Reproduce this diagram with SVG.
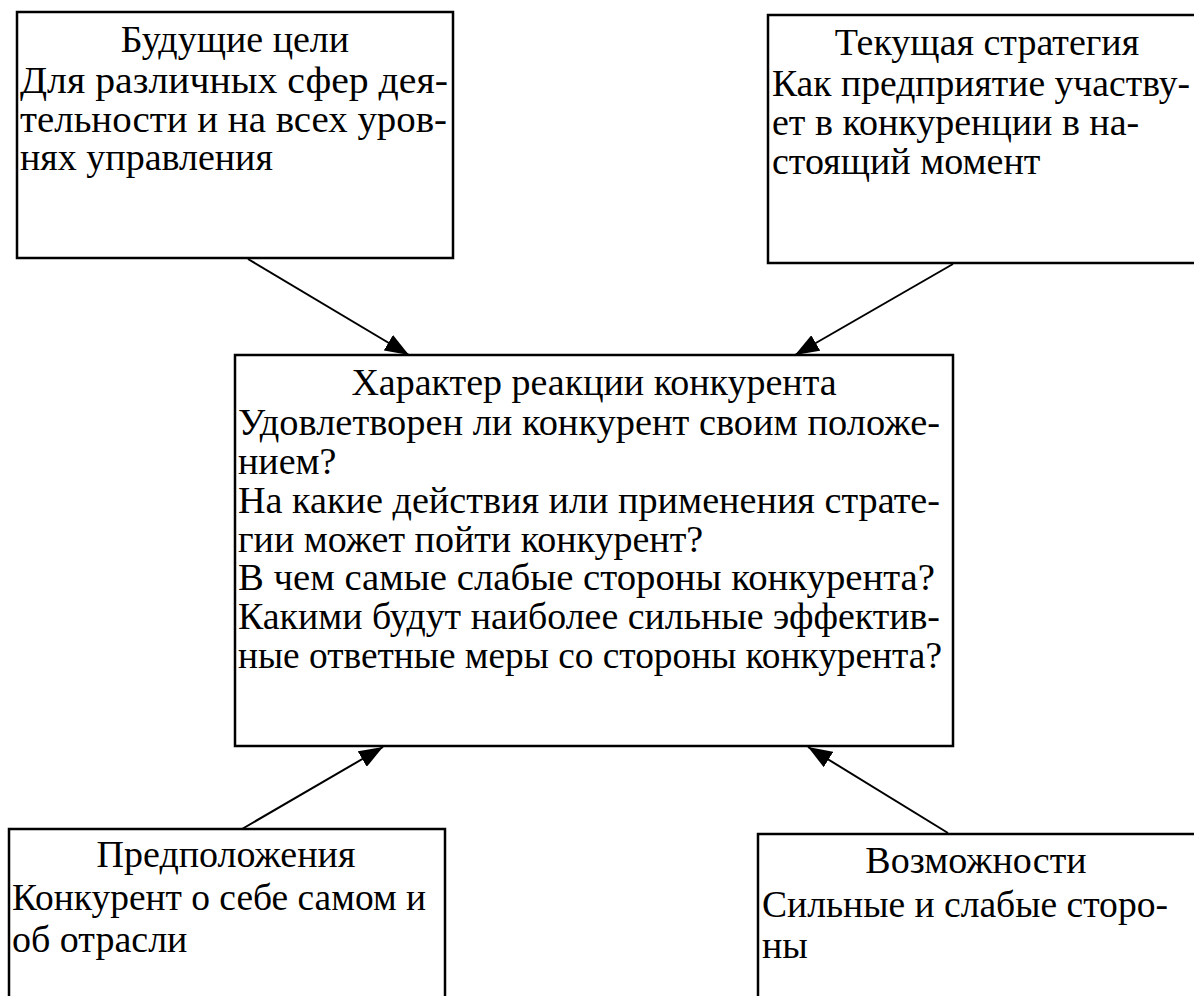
<svg xmlns="http://www.w3.org/2000/svg" width="1194" height="996" viewBox="0 0 1194 996">
<style>
.box{fill:#fff;stroke:#000;stroke-width:2.5}
.t{font-family:"Liberation Serif","Times New Roman",serif;font-size:38px;fill:#000}
.c{text-anchor:middle}
.conn{stroke:#000;stroke-width:2;fill:none;marker-end:url(#ah)}
</style>
<defs>
<marker id="ah" markerUnits="userSpaceOnUse" markerWidth="24" markerHeight="18" refX="24" refY="9" orient="auto"><path d="M0,0 L24,9 L0,18 Z" fill="#000"/></marker>
</defs>
<rect width="1194" height="996" fill="#fff"/>
<g id="goals">
<rect class="box" x="17" y="12" width="436" height="246"/>
<text class="t c" x="235" y="52">Будущие цели</text>
<text class="t" x="20" y="93" textLength="428" lengthAdjust="spacingAndGlyphs">Для различных сфер дея-</text>
<text class="t" x="20" y="132" textLength="427" lengthAdjust="spacingAndGlyphs">тельности и на всех уров-</text>
<text class="t" x="20" y="170">нях управления</text>
</g>
<g id="strategy">
<rect class="box" x="768" y="15" width="440" height="248"/>
<text class="t c" x="987" y="55">Текущая стратегия</text>
<text class="t" x="772" y="96" textLength="418" lengthAdjust="spacingAndGlyphs">Как предприятие участву-</text>
<text class="t" x="772" y="135">ет в конкуренции в на-</text>
<text class="t" x="772" y="174">стоящий момент</text>
</g>
<g id="reaction">
<rect class="box" x="235" y="355" width="718" height="391"/>
<text class="t c" x="594" y="395">Характер реакции конкурента</text>
<text class="t" x="238" y="435" textLength="702" lengthAdjust="spacingAndGlyphs">Удовлетворен ли конкурент своим положе-</text>
<text class="t" x="238" y="474">нием?</text>
<text class="t" x="238" y="513" textLength="702" lengthAdjust="spacingAndGlyphs">На какие действия или применения страте-</text>
<text class="t" x="238" y="552">гии может пойти конкурент?</text>
<text class="t" x="238" y="590" textLength="697" lengthAdjust="spacingAndGlyphs">В чем самые слабые стороны конкурента?</text>
<text class="t" x="238" y="629" textLength="702" lengthAdjust="spacingAndGlyphs">Какими будут наиболее сильные эффектив-</text>
<text class="t" x="238" y="668" textLength="704" lengthAdjust="spacingAndGlyphs">ные ответные меры со стороны конкурента?</text>
</g>
<g id="assumptions">
<rect class="box" x="9" y="829" width="436" height="200"/>
<text class="t c" x="226" y="867">Предположения</text>
<text class="t" x="12" y="910" textLength="414" lengthAdjust="spacingAndGlyphs">Конкурент о себе самом и</text>
<text class="t" x="12" y="952">об отрасли</text>
</g>
<g id="capabilities">
<rect class="box" x="758" y="834" width="450" height="200"/>
<text class="t c" x="976" y="873">Возможности</text>
<text class="t" x="762" y="917" textLength="406" lengthAdjust="spacingAndGlyphs">Сильные и слабые сторо-</text>
<text class="t" x="762" y="958">ны</text>
</g>
<g id="connectors">
<line class="conn" x1="248" y1="259" x2="409" y2="355"/>
<line class="conn" x1="953" y1="264" x2="795" y2="355"/>
<line class="conn" x1="242" y1="829" x2="383" y2="747"/>
<line class="conn" x1="948" y1="833" x2="808" y2="747"/>
</g>
</svg>
